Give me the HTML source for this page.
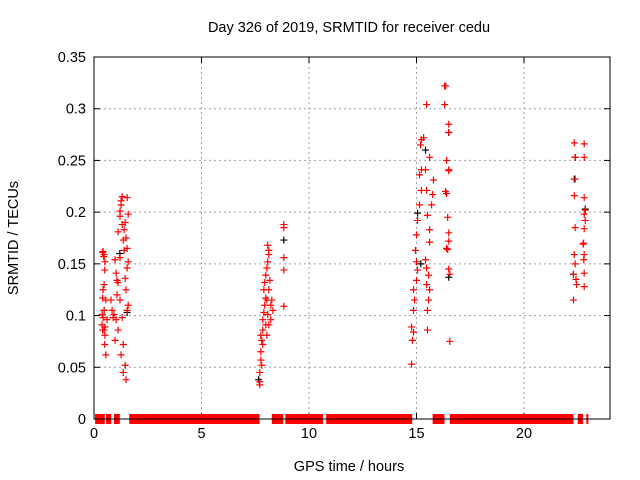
<!DOCTYPE html>
<html><head><meta charset="utf-8"><style>
body{margin:0;background:#fff}
svg{display:block;font-family:"Liberation Sans",sans-serif}
</style></head><body>
<svg id="chart" width="640" height="480" viewBox="0 0 640 480">
<rect width="640" height="480" fill="#fff"/>
<g id="grid"></g>
<g id="ticks"></g>
<g id="zero"></g>
<g id="black"></g>
<g id="red"></g>
<rect x="94" y="57" width="516" height="362" fill="none" stroke="#000" stroke-width="1"/>
<text x="349" y="32" font-size="14.5" text-anchor="middle">Day 326 of 2019, SRMTID for receiver cedu</text>
<text x="349" y="471" font-size="14.5" text-anchor="middle">GPS time / hours</text>
<text transform="translate(18,238) rotate(-90)" font-size="14.5" text-anchor="middle">SRMTID / TECUs</text>
</svg>
<script>
const xTicks=[0,5,10,15,20];
const yTicks=[0,0.05,0.1,0.15,0.2,0.25,0.3,0.35];
const yTickLabels=["0","0.05","0.1","0.15","0.2","0.25","0.3","0.35"];
const zeroSegStart=[0.05,0.56,0.93,1.64,8.27,8.9,10.8,15.75,16.55,16.6,22.5,22.9];
const zeroSegEnd=[0.5,0.8,1.2,7.7,8.8,10.65,14.8,16.3,16.6,22.3,22.75,22.95];
const redHours=[.42,.47,.51,.47,.42,.47,.42,.37,.47,.51,.51,.61,.79,.84,.89,.93,.98,1.03,1.07,1.12,1.21,1.26,1.26,1.31,1.21,1.21,1.31,1.40,1.36,1.40,1.12,1.07,1.21,1.31,1.36,1.26,1.36,1.45,1.49,1.54,1.59,1.49,1.45,1.54,1.59,1.54,1.49,1.45,1.54,1.59,.5,.55,.40,.55,.38,.40,.5,.45,.40,.98,1.03,1.12,
7.71,7.71,7.71,7.76,7.76,7.80,7.85,7.85,7.90,7.94,7.99,7.90,7.94,7.99,8.04,8.08,8.13,8.13,8.08,8.04,8.08,8.13,8.22,8.27,8.13,8.18,7.85,7.80,8.22,8.32,8.83,8.83,8.83,8.83,8.83,7.99,8.04,7.76,
14.77,14.81,14.86,14.77,14.86,14.91,14.86,15.00,15.05,15.00,14.95,15.00,15.05,15.14,15.23,15.14,15.23,15.19,15.23,15.33,15.42,15.47,15.51,15.61,15.61,15.47,15.56,15.47,15.56,15.51,15.61,15.51,15.42,15.70,15.75,15.79,15.61,16.31,16.36,16.31,15.47,16.5,16.5,16.4,16.5,16.5,16.35,16.4,16.45,16.5,16.5,16.4,16.45,16.5,16.55,16.55,
22.34,22.8,22.38,22.8,22.38,22.34,22.8,22.85,22.8,22.85,22.38,22.8,22.75,22.77,22.34,22.8,22.78,22.38,22.3,22.42,22.45,22.8,22.8,22.3];
const redValues=[.162,.159,.152,.130,.125,.105,.098,.091,.086,.089,.081,.096,.115,.105,.098,.101,.154,.141,.134,.132,.156,.211,.207,.215,.201,.196,.188,.183,.173,.163,.181,.120,.115,.098,.072,.062,.045,.052,.038,.105,.110,.125,.136,.146,.152,.165,.175,.190,.214,.198,.072,.062,.086,.115,.101,.117,.144,.157,.161,.076,.096,.086,
.036,.033,.045,.057,.065,.076,.086,.096,.103,.110,.117,.125,.132,.139,.146,.152,.159,.163,.168,.115,.101,.091,.110,.115,.125,.134,.072,.052,.096,.105,.188,.185,.156,.144,.109,.091,.081,.081,
.053,.076,.084,.089,.105,.115,.125,.134,.144,.152,.163,.178,.192,.207,.221,.236,.241,.265,.270,.272,.241,.221,.197,.183,.171,.146,.139,.130,.115,.105,.125,.086,.154,.207,.217,.231,.253,.322,.322,.304,.304,.285,.277,.250,.241,.240,.220,.218,.195,.180,.172,.165,.164,.145,.140,.075,
.267,.266,.253,.253,.232,.216,.214,.202,.198,.192,.185,.184,.169,.170,.159,.159,.154,.150,.140,.135,.130,.141,.128,.115];
const blackHours=[.47,1.54,7.66,8.83,15.05,15.42,16.5,16.5,22.38,22.34,22.85,22.3,15.2,1.2];
const blackValues=[.105,.103,.038,.173,.199,.260,.277,.137,.253,.232,.203,.140,.150,.160];
const X0=94,X1=610,Y0=419,Y1=57,XMAX=24,YMAX=0.35;
const sx=h=>X0+(h/XMAX)*(X1-X0);
const sy=v=>Y0-(v/YMAX)*(Y0-Y1);
const NS="http://www.w3.org/2000/svg";
function mk(tag,attrs,parent){const e=document.createElementNS(NS,tag);for(const k in attrs)e.setAttribute(k,attrs[k]);parent.appendChild(e);return e;}
const grid=document.getElementById('grid'),ticks=document.getElementById('ticks');
xTicks.forEach(t=>{const x=sx(t);
 if(t>0){const g=mk('line',{x1:x,x2:x,y1:Y1,y2:Y0,stroke:'#a0a0a0','stroke-dasharray':'2,3'},grid);
 
 }
 mk('line',{x1:x,x2:x,y1:Y0,y2:Y0-6,stroke:'#000'},ticks);
 mk('line',{x1:x,x2:x,y1:Y1,y2:Y1+6,stroke:'#000'},ticks);
 const l=mk('text',{x:x,y:Y0+19,'font-size':'14.5','text-anchor':'middle'},ticks);l.textContent=t;
 
 
});
yTicks.forEach((t,i)=>{const y=sy(t);
 if(t>0&&t<YMAX){const g=mk('line',{x1:X0,x2:X1,y1:y,y2:y,stroke:'#a0a0a0','stroke-dasharray':'2,3'},grid);
 
 }
 mk('line',{x1:X0,x2:X0+6,y1:y,y2:y,stroke:'#000'},ticks);
 mk('line',{x1:X1,x2:X1-6,y1:y,y2:y,stroke:'#000'},ticks);
 const l=mk('text',{x:X0-8,y:y+5,'font-size':'14.5','text-anchor':'end'},ticks);l.textContent=yTickLabels[i];
 
 
});
const zero=document.getElementById('zero');
zeroSegStart.forEach((s,i)=>{const x=sx(s),w=Math.max(2,sx(zeroSegEnd[i])-sx(s));
 const r=mk('rect',{x:x,y:sy(0)-5,width:w,height:10,fill:'#ff0000'},zero);
 
 
});
function plus(h,v,color,parent,name){const x=sx(h),y=sy(v);
 const p=mk('path',{d:`M${x-3.5},${y}H${x+3.5}M${x},${y-3.5}V${y+3.5}`,stroke:color,'stroke-width':'1.2',fill:'none'},parent);
 
 
}
const bg=document.getElementById('black');
blackHours.forEach((h,i)=>plus(h,blackValues[i],'#000',bg,'black-point'));
const rg=document.getElementById('red');
redHours.forEach((h,i)=>plus(h,redValues[i],'#ff0000',rg,'red-point'));
</script>
</body></html>
